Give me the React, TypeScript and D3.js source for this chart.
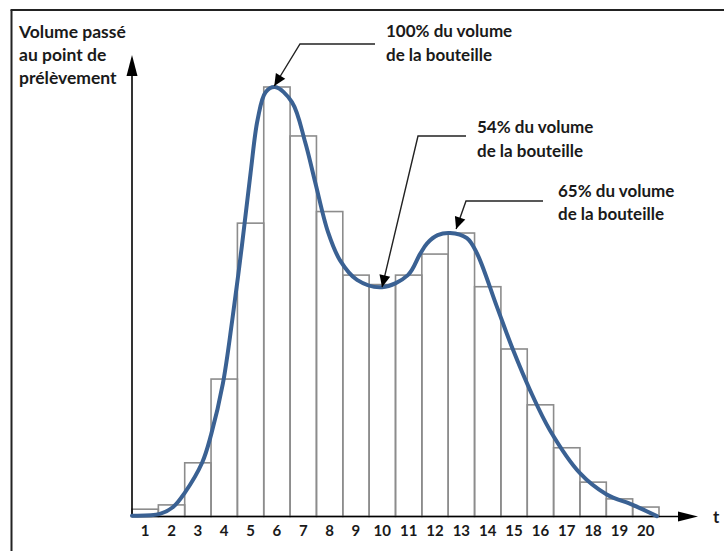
import React from "react";
import * as d3 from "d3";

const categories = [1, 2, 3, 4, 5, 6, 7, 8, 9, 10, 11, 12, 13, 14, 15, 16, 17, 18, 19, 20];
const barValues = [1.7, 2.7, 12.5, 32, 68.3, 100, 88.6, 71, 56.2, 54, 56.2, 61.1, 66, 53.5, 39, 26, 16, 8, 4.1, 2.2];

const curveT = [0.5, 1.56, 2.06, 2.5, 3.16, 3.5, 3.95, 4.3, 4.67, 5.0, 5.27, 5.57, 5.93, 6.57, 7.07, 7.45, 7.94, 8.39, 9.04, 9.99, 10.97, 11.43, 11.7, 12.1, 12.57, 13.21, 13.59, 14.35, 14.96, 15.6, 16.36, 17.5, 18.5, 19.5, 20.42];
const curveV = [0.2, 0.6, 2.2, 5.5, 12.5, 19, 31, 45.5, 63, 80, 92.5, 98.8, 100, 96.5, 87.2, 77.9, 66.2, 59.7, 55.1, 53.4, 56.2, 61.1, 63.6, 65.5, 66, 64.8, 61.3, 48.8, 38.8, 29.5, 20.1, 10.1, 5.2, 2.7, 0.1];

const yTitle = ["Volume passé", "au point de", "prélèvement"];
const annotations = [
  { lines: ["100% du volume", "de la bouteille"], t: 5.9, v: 100 },
  { lines: ["54% du volume", "de la bouteille"], t: 9.99, v: 53.4 },
  { lines: ["65% du volume", "de la bouteille"], t: 12.8, v: 66 },
];

const W = 724;
const H = 551;
const FONT = "Lato, 'Open Sans', sans-serif";

export default function App() {
  const x = d3.scaleLinear().domain([0.5, 20.5]).range([132, 659]);
  const y = d3.scaleLinear().domain([0, 100]).range([516.5, 87]);
  const base = y(0);

  const pts: [number, number][] = curveT.map((t, i) => [x(t), y(curveV[i])]);
  const line = d3.line<[number, number]>().x((d) => d[0]).y((d) => d[1]).curve(d3.curveCatmullRom.alpha(0.5));

  const ann = [
    { tx: 386, ty: 37, lh: 24, path: [[375, 44], [300, 44], [x(annotations[0].t), y(annotations[0].v) - 1]] },
    { tx: 477, ty: 133, lh: 24, path: [[466, 136], [418, 136], [x(annotations[1].t), y(annotations[1].v)]] },
    { tx: 558, ty: 197, lh: 23, path: [[543, 201], [466, 201], [x(annotations[2].t), y(annotations[2].v) - 4]] },
  ];

  const arrowHead = (p: number[][], len = 12, half = 5.5) => {
    const a = p[p.length - 2];
    const b = p[p.length - 1];
    const dx = b[0] - a[0];
    const dy = b[1] - a[1];
    const L = Math.hypot(dx, dy);
    const ux = dx / L, uy = dy / L;
    const bx = b[0] - ux * len, by = b[1] - uy * len;
    return `M${b[0]},${b[1]}L${bx - uy * half},${by + ux * half}L${bx + uy * half},${by - ux * half}Z`;
  };

  return (
    <div style={{ position: "fixed", left: 0, top: 0, width: W, height: H, background: "#fff" }}>
      <svg width={W} height={H} style={{ display: "block" }}>
        <rect x={0} y={0} width={W} height={H} fill="#fff" />
        <line x1={10.5} y1={10} x2={W} y2={10} stroke="#222" strokeWidth={2} />
        <line x1={11.5} y1={10} x2={11.5} y2={H} stroke="#222" strokeWidth={2} />

        {barValues.map((v, i) => {
          const c = categories[i];
          return (
            <rect
              key={c}
              x={x(c - 0.5)}
              y={y(v)}
              width={x(c + 0.5) - x(c - 0.5)}
              height={base - y(v)}
              fill="none"
              stroke="#8c8c8c"
              strokeWidth={1.6}
            />
          );
        })}

        <line x1={132} y1={base} x2={132} y2={70} stroke="#000" strokeWidth={1.6} />
        <path d="M132,55L126.5,76L137.5,76Z" fill="#000" />
        <line x1={132} y1={base} x2={680} y2={base} stroke="#000" strokeWidth={1.6} />
        <path d={`M698,${base}L678,${base - 5}L678,${base + 5}Z`} fill="#000" />

        <path d={line(pts) || ""} fill="none" stroke="#3a6193" strokeWidth={4} strokeLinecap="round" />

        {categories.map((c) => (
          <text key={c} x={x(c)} y={535.5} textAnchor="middle" fontFamily={FONT} fontWeight={700} fontSize={15} fill="#1a1a1a">
            {c}
          </text>
        ))}
        <text x={713} y={523} fontFamily={FONT} fontWeight={700} fontSize={17} fill="#1a1a1a">t</text>

        {yTitle.map((s, i) => (
          <text key={s} x={19} y={38 + i * 23} fontFamily={FONT} fontWeight={700} fontSize={17.5} fill="#1a1a1a">
            {s}
          </text>
        ))}

        {annotations.map((a, k) => (
          <g key={k}>
            <path
              d={"M" + ann[k].path.map((p) => p.join(",")).join("L")}
              fill="none"
              stroke="#222"
              strokeWidth={1.4}
            />
            <path d={arrowHead(ann[k].path)} fill="#000" />
            {a.lines.map((s, j) => (
              <text key={j} x={ann[k].tx} y={ann[k].ty + j * ann[k].lh} fontFamily={FONT} fontWeight={700} fontSize={17} fill="#1a1a1a">
                {s}
              </text>
            ))}
          </g>
        ))}
      </svg>
    </div>
  );
}
